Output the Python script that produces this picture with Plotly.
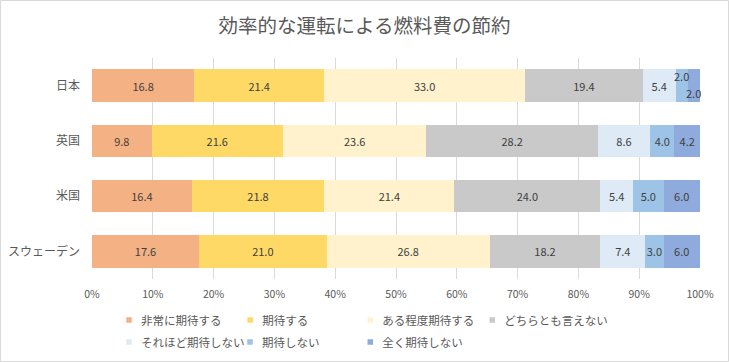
import plotly.graph_objects as go

categories = ["日本", "英国", "米国", "スウェーデン"]
series_names = ["非常に期待する", "期待する", "ある程度期待する", "どちらとも言えない",
                "それほど期待しない", "期待しない", "全く期待しない"]
very_expect = [16.8, 9.8, 16.4, 17.6]
expect = [21.4, 21.6, 21.8, 21.0]
somewhat = [33.0, 23.6, 21.4, 26.8]
neutral = [19.4, 28.2, 24.0, 18.2]
not_much = [5.4, 8.6, 5.4, 7.4]
not_expect = [2.0, 4.0, 5.0, 3.0]
not_at_all = [2.0, 4.2, 6.0, 6.0]
series_values = [very_expect, expect, somewhat, neutral, not_much, not_expect, not_at_all]
colors = ["#F4B183", "#FFD966", "#FFF2CC", "#C9C9C9", "#DEEBF7", "#9DC3E6", "#8FAADC"]

FONT = "Noto Sans CJK JP"
TXT = "#404040"
GRAY = "#595959"

L, R, T, B = 92, 29, 58, 83
W, H = 729, 362
PW = W - L - R
PH = H - T - B

def ypaper(px):
    return (H - B - px) / PH

def xpaper(px):
    return (px - L) / PW

# legend entry positions (marker centre x, row centre y) in pixels, Excel-like layout
legend_pos = [(128.5, 320), (249.7, 320), (369.8, 320), (491.8, 320),
              (128.5, 342), (249.5, 342), (369.8, 342)]

fig = go.Figure()
annotations = []
cum = [0.0] * len(categories)
layout_legends = {}
for si, (name, vals, col) in enumerate(zip(series_names, series_values, colors)):
    texts = []
    for ci, v in enumerate(vals):
        # tiny segments: label with offset annotation instead (Excel-like)
        if v <= 2.0:
            texts.append("")
            mid = cum[ci] + v / 2
            annotations.append(dict(x=mid, y=categories[ci], xref="x", yref="y",
                                    text=f"{v:.1f}", showarrow=False,
                                    yshift=9.5 if si == 5 else -7.5,
                                    font=dict(family=FONT, size=11, color=TXT)))
        else:
            texts.append(f"{v:.1f}")
        cum[ci] += v
    legend_id = "legend" if si == 0 else f"legend{si + 1}"
    mx, my = legend_pos[si]
    layout_legends[legend_id] = dict(
        visible=True,
        orientation="h", x=xpaper(mx - 27.5), xanchor="left", y=ypaper(my), yanchor="middle",
        itemwidth=30, font=dict(family=FONT, size=11.5, color=GRAY), bgcolor="rgba(0,0,0,0)")
    fig.add_trace(go.Bar(
        y=categories, x=vals, name=name, orientation="h",
        marker=dict(color=col, line=dict(width=0)),
        text=texts, textposition="inside", insidetextanchor="middle",
        constraintext="none", textangle=0,
        textfont=dict(family=FONT, size=11, color=TXT),
        legend=legend_id, showlegend=True, hoverinfo="skip",
    ))

fig.update_layout(
    width=W, height=H, showlegend=True,
    margin=dict(l=L, r=R, t=T, b=B, autoexpand=False),
    barmode="stack", bargap=0.41,
    paper_bgcolor="white", plot_bgcolor="white",
    font=dict(family=FONT, color=GRAY),
    title=dict(text="効率的な運転による燃料費の節約", x=0.5, xanchor="center",
               y=1 - 26 / H, yanchor="middle",
               font=dict(family=FONT, size=19.5, color=GRAY)),
    xaxis=dict(range=[0, 100], tickvals=list(range(0, 101, 10)),
               ticktext=[f"{v}%" for v in range(0, 101, 10)],
               showgrid=True, gridcolor="#D9D9D9", gridwidth=1,
               zeroline=False, showline=False, ticks="", automargin=False,
               ticklabelstandoff=7,
               tickfont=dict(family=FONT, size=10.5, color=GRAY)),
    yaxis=dict(categoryorder="array", categoryarray=categories, autorange="reversed",
               showgrid=False, zeroline=False, showline=False, ticks="",
               ticklabelstandoff=11, automargin=False,
               tickfont=dict(family=FONT, size=12, color=GRAY)),
    annotations=annotations,
    shapes=[dict(type="rect", xref="paper", yref="paper",
                 x0=-(L - 0.5) / PW, x1=1 + (R - 0.5) / PW,
                 y0=-(B - 0.5) / PH, y1=1 + (T - 0.5) / PH,
                 line=dict(color="#D9D9D9", width=1), fillcolor="rgba(0,0,0,0)", layer="below")],
    **layout_legends,
)

post = """
document.body.style.margin='0';document.body.style.overflow='hidden';
var gd=document.getElementById('{plot_id}');
function shrinkLegend(){
  document.querySelectorAll('.legendpoints path').forEach(function(p){
    if(p.dataset.base===undefined){p.dataset.base=p.getAttribute('transform')||'';}
    p.setAttribute('transform', p.dataset.base+' translate(8,0) scale(0.46)');
  });
}
shrinkLegend();
if(gd && gd.on){gd.on('plotly_afterplot', shrinkLegend);}
"""

fig.write_html("out.html", config={"displayModeBar": False}, post_script=post)
